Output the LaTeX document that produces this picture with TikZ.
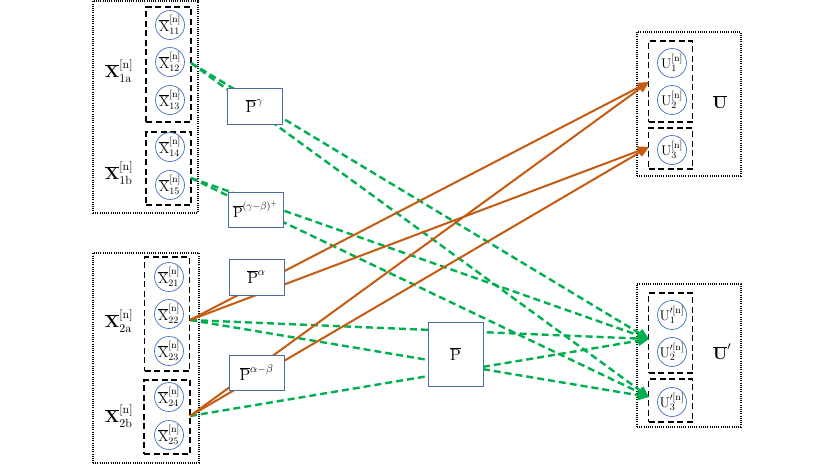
\documentclass[tikz,border=0pt]{standalone}
\usepackage{fix-cm}
\usetikzlibrary{arrows.meta}
\definecolor{orng}{HTML}{C55A11}
\definecolor{grn}{HTML}{00B050}
\definecolor{cblue}{HTML}{4472C4}
\definecolor{pblue}{HTML}{4A6FA5}
\begin{document}
\begin{tikzpicture}[x=1pt,y=-1pt,
  font=\fontsize{15}{17}\selectfont,
  outerbox/.style={draw=black, dash pattern=on 1pt off 1.2pt, line width=1.1pt, inner sep=0pt},
  dbox/.style={draw=black, dash pattern=on 6pt off 3.5pt, line width=1.6pt, inner sep=0pt},
  ctext/.style={inner sep=0pt, font=\fontsize{14}{16}\selectfont},
  cnode/.style={circle, draw=cblue, line width=0.7pt, minimum size=29pt, inner sep=0pt, label={[ctext]center:#1}},
  pbox/.style={draw=pblue, line width=1pt, fill=white, inner sep=0pt, font=\fontsize{16}{18}\selectfont},
  garr/.style={draw=grn, line width=2.4pt, dash pattern=on 7pt off 4pt, -{Triangle[length=11pt,width=10pt]}},
  oarr/.style={draw=orng, line width=2pt, -{Triangle[length=11pt,width=9pt]}},
  lbl/.style={inner sep=0pt, font=\fontsize{17}{19}\selectfont}
]
\useasboundingbox (0,0) rectangle (830,467);

% left outer boxes
\node[outerbox, minimum width=105pt, minimum height=212pt] (o1) at (145.5,107) {};
\node[outerbox, minimum width=106pt, minimum height=210pt] (o2) at (146,358) {};
% left dashed groups
\node[dbox, minimum width=45pt, minimum height=115pt] (b1a) at (168.5,64.5) {};
\node[dbox, minimum width=45pt, minimum height=73pt] (b1b) at (168.5,168.5) {};
\node[dbox, minimum width=45pt, minimum height=114pt] (b2a) at (167,314) {};
\node[dbox, minimum width=46pt, minimum height=74pt] (b2b) at (167,417) {};
% left circles
\node[cnode={$\overline{\mathrm{X}}^{[\mathrm{n}]}_{11}$}] (x11) at (170,25) {};
\node[cnode={$\overline{\mathrm{X}}^{[\mathrm{n}]}_{12}$}] (x12) at (170,62) {};
\node[cnode={$\overline{\mathrm{X}}^{[\mathrm{n}]}_{13}$}] (x13) at (170,100) {};
\node[cnode={$\overline{\mathrm{X}}^{[\mathrm{n}]}_{14}$}] (x14) at (170,147) {};
\node[cnode={$\overline{\mathrm{X}}^{[\mathrm{n}]}_{15}$}] (x15) at (170,185) {};
\node[cnode={$\overline{\mathrm{X}}^{[\mathrm{n}]}_{21}$}] (x21) at (169,277) {};
\node[cnode={$\overline{\mathrm{X}}^{[\mathrm{n}]}_{22}$}] (x22) at (169,314) {};
\node[cnode={$\overline{\mathrm{X}}^{[\mathrm{n}]}_{23}$}] (x23) at (169,351) {};
\node[cnode={$\overline{\mathrm{X}}^{[\mathrm{n}]}_{24}$}] (x24) at (169,397) {};
\node[cnode={$\overline{\mathrm{X}}^{[\mathrm{n}]}_{25}$}] (x25) at (169,435) {};
% left labels
\node[lbl] (l1a) at (119,71) {$\overline{\mathbf{X}}^{[\mathrm{n}]}_{1\mathrm{a}}$};
\node[lbl] (l1b) at (119,173) {$\overline{\mathbf{X}}^{[\mathrm{n}]}_{1\mathrm{b}}$};
\node[lbl] (l2a) at (119,321) {$\overline{\mathbf{X}}^{[\mathrm{n}]}_{2\mathrm{a}}$};
\node[lbl] (l2b) at (119,416) {$\overline{\mathbf{X}}^{[\mathrm{n}]}_{2\mathrm{b}}$};

% right outer boxes
\node[outerbox, minimum width=104pt, minimum height=144pt] (o3) at (689,104) {};
\node[outerbox, minimum width=104pt, minimum height=143pt] (o4) at (689,355.5) {};
% right dashed groups
\node[dbox, minimum width=44pt, minimum height=81pt] (bu12) at (670.5,81.5) {};
\node[dbox, minimum width=44pt, minimum height=41pt] (bu3) at (670.5,148.5) {};
\node[dbox, minimum width=44pt, minimum height=80pt] (bv12) at (670.5,333) {};
\node[dbox, minimum width=44pt, minimum height=43pt] (bv3) at (670.5,400.5) {};
% right circles
\node[cnode={$\mathrm{U}^{[\mathrm{n}]}_{1}$}] (u1) at (672,63) {};
\node[cnode={$\mathrm{U}^{[\mathrm{n}]}_{2}$}] (u2) at (672,100) {};
\node[cnode={$\mathrm{U}^{[\mathrm{n}]}_{3}$}] (u3) at (672,150) {};
\node[cnode={$\mathrm{U}^{\prime[\mathrm{n}]}_{1}$}] (v1) at (672,315) {};
\node[cnode={$\mathrm{U}^{\prime[\mathrm{n}]}_{2}$}] (v2) at (672,352) {};
\node[cnode={$\mathrm{U}^{\prime[\mathrm{n}]}_{3}$}] (v3) at (672,402) {};
% right labels
\node[lbl] (lu) at (720,102) {$\overline{\mathbf{U}}$};
\node[lbl] (lv) at (722,352) {$\overline{\mathbf{U}}'$};

% connector end points
\coordinate (s1a) at (191,63);
\coordinate (s1b) at (191,178);
\coordinate (s2a) at (190,320);
\coordinate (s2b) at (190,416);
\coordinate (tu) at (649,82);
\coordinate (tu3) at (649,147);
\coordinate (tv) at (649,339);
\coordinate (tv3) at (649,397);

% green dashed arrows
\draw[garr] (s1a) -- (tv);
\draw[garr] (s1a) -- (tv3);
\draw[garr] (s1b) -- (tv);
\draw[garr] (s1b) -- (tv3);
\draw[garr] (s2a) -- (tv);
\draw[garr] (s2a) -- (tv3);
\draw[garr] (s2b) -- (tv);
% orange arrows
\draw[oarr] (s2a) -- (tu);
\draw[oarr] (s2a) -- (tu3);
\draw[oarr] (s2b) -- (tu);
\draw[oarr] (s2b) -- (tu3);

% P boxes on top
\node[pbox, minimum width=55pt, minimum height=36pt] (pg) at (254.5,106) {$\overline{\mathrm{P}}^{\gamma}$};
\node[pbox, minimum width=55pt, minimum height=35pt, font=\fontsize{14.5}{16}\selectfont] (pgb) at (255.5,209.5) {$\overline{\mathrm{P}}^{(\gamma-\beta)^{+}}$};
\node[pbox, minimum width=55pt, minimum height=36pt] (pa) at (256.5,277) {$\overline{\mathrm{P}}^{\alpha}$};
\node[pbox, minimum width=55pt, minimum height=35pt] (pab) at (256.5,372.5) {$\overline{\mathrm{P}}^{\alpha-\beta}$};
\node[pbox, minimum width=55pt, minimum height=64pt] (pp) at (455.5,354) {$\overline{\mathrm{P}}$};
\end{tikzpicture}
\end{document}
